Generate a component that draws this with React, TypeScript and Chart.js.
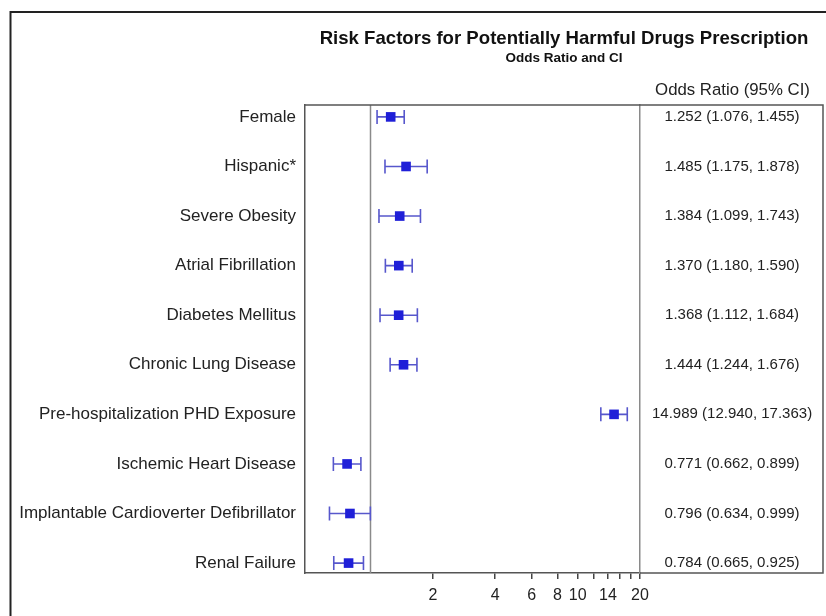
import React, { useEffect, useRef } from "react";
import { Chart, registerables } from "chart.js";

Chart.register(...registerables);

const titleText = "Risk Factors for Potentially Harmful Drugs Prescription";
const subtitleText = "Odds Ratio and CI";
const columnHeader = "Odds Ratio (95% CI)";

const categories = [
  "Female",
  "Hispanic*",
  "Severe Obesity",
  "Atrial Fibrillation",
  "Diabetes Mellitus",
  "Chronic Lung Disease",
  "Pre-hospitalization PHD Exposure",
  "Ischemic Heart Disease",
  "Implantable Cardioverter Defibrillator",
  "Renal Failure",
];
const oddsRatio = [1.252, 1.485, 1.384, 1.37, 1.368, 1.444, 14.989, 0.771, 0.796, 0.784];
const ciLow = [1.076, 1.175, 1.099, 1.18, 1.112, 1.244, 12.94, 0.662, 0.634, 0.665];
const ciHigh = [1.455, 1.878, 1.743, 1.59, 1.684, 1.676, 17.363, 0.899, 0.999, 0.925];

const xTickValues = [2, 4, 6, 8, 10, 12, 14, 16, 18, 20];
const xTickLabels = ["2", "4", "6", "8", "10", "", "14", "", "", "20"];

const resultLabels = oddsRatio.map(
  (v, i) => `${v.toFixed(3)} (${ciLow[i].toFixed(3)}, ${ciHigh[i].toFixed(3)})`
);

const FONT = "'Liberation Sans', Arial, sans-serif";
const W = 826;
const H = 616;
const BOX_RIGHT = 823;

const decor = {
  id: "decor",
  beforeDatasetsDraw(chart: any) {
    const { ctx, chartArea, scales } = chart;
    const x = scales.x;
    const y = scales.y;
    ctx.save();
    // reference line at OR = 1
    const x1 = Math.round(x.getPixelForValue(1)) + 0.5;
    ctx.strokeStyle = "#8a8a8a";
    ctx.lineWidth = 1.5;
    ctx.beginPath();
    ctx.moveTo(x1, chartArea.top);
    ctx.lineTo(x1, chartArea.bottom);
    ctx.stroke();
    // error bars
    ctx.strokeStyle = "#5757cc";
    ctx.lineWidth = 1.6;
    for (let i = 0; i < categories.length; i++) {
      const py = y.getPixelForValue(i);
      const xl = x.getPixelForValue(ciLow[i]);
      const xh = x.getPixelForValue(ciHigh[i]);
      ctx.beginPath();
      ctx.moveTo(xl, py);
      ctx.lineTo(xh, py);
      ctx.moveTo(xl, py - 7);
      ctx.lineTo(xl, py + 7);
      ctx.moveTo(xh, py - 7);
      ctx.lineTo(xh, py + 7);
      ctx.stroke();
    }
    ctx.restore();
  },
  afterDraw(chart: any) {
    const { ctx, chartArea } = chart;
    ctx.save();
    // box extension around the results column
    ctx.strokeStyle = "#555555";
    ctx.lineWidth = 1.5;
    ctx.beginPath();
    ctx.moveTo(chartArea.left, chartArea.top);
    ctx.lineTo(BOX_RIGHT, chartArea.top);
    ctx.lineTo(BOX_RIGHT, chartArea.bottom);
    ctx.lineTo(chartArea.right, chartArea.bottom);
    ctx.stroke();
    // outer frame
    ctx.strokeStyle = "#222222";
    ctx.lineWidth = 2;
    ctx.beginPath();
    ctx.moveTo(10.5, H);
    ctx.lineTo(10.5, 12);
    ctx.lineTo(W, 12);
    ctx.stroke();
    // titles
    const cx = (chartArea.left + BOX_RIGHT) / 2;
    ctx.fillStyle = "#111111";
    ctx.textAlign = "center";
    ctx.textBaseline = "middle";
    ctx.font = `bold 18.6px ${FONT}`;
    ctx.fillText(titleText, cx, 39);
    ctx.font = `bold 13.5px ${FONT}`;
    ctx.fillText(subtitleText, cx, 58);
    // column header
    ctx.fillStyle = "#222222";
    ctx.font = `16.8px ${FONT}`;
    ctx.fillText(columnHeader, (chartArea.right + BOX_RIGHT) / 2 + 1, 90);
    ctx.restore();
  },
};

export default function App() {
  const ref = useRef<HTMLCanvasElement | null>(null);
  useEffect(() => {
    if (!ref.current) return;
    const chart = new Chart(ref.current, {
      type: "scatter",
      data: {
        datasets: [
          {
            data: oddsRatio.map((v, i) => ({ x: v, y: i })),
            pointStyle: "rect",
            pointRadius: 6.8,
            pointBackgroundColor: "#1f1fd8",
            pointBorderColor: "#1f1fd8",
            pointBorderWidth: 0,
          },
        ],
      },
      plugins: [decor],
      options: {
        responsive: false,
        animation: false,
        devicePixelRatio: 1,
        layout: { padding: { top: 105, left: 0, right: 0, bottom: 0 } },
        plugins: {
          legend: { display: false },
          tooltip: { enabled: false },
          title: { display: false },
        },
        scales: {
          x: {
            type: "logarithmic",
            min: 0.483,
            max: 20,
            afterBuildTicks: (s: any) => {
              s.ticks = xTickValues.map((v) => ({ value: v }));
            },
            afterFit: (s: any) => {
              s.height = H - 573;
            },
            ticks: {
              autoSkip: false,
              maxRotation: 0,
              color: "#222222",
              font: { size: 16, family: FONT },
              padding: 7,
              callback: (_v: any, i: number) => xTickLabels[i],
            },
            grid: {
              drawOnChartArea: false,
              drawTicks: true,
              tickLength: 6,
              color: "#444444",
              lineWidth: 1.5,
            },
            border: { color: "#555555", width: 1.5 },
          },
          y: {
            type: "linear",
            position: "left",
            reverse: true,
            min: -0.24,
            max: 9.2,
            afterBuildTicks: (s: any) => {
              s.ticks = categories.map((_c, i) => ({ value: i }));
            },
            afterFit: (s: any) => {
              s.width = 305;
            },
            ticks: {
              autoSkip: false,
              color: "#222222",
              font: { size: 17, family: FONT },
              padding: 9,
              callback: (v: any) => categories[v],
            },
            grid: { display: false, drawTicks: false },
            border: { color: "#555555", width: 1.5 },
          },
          y2: {
            type: "linear",
            position: "right",
            reverse: true,
            min: -0.24,
            max: 9.2,
            afterBuildTicks: (s: any) => {
              s.ticks = resultLabels.map((_c, i) => ({ value: i }));
            },
            afterFit: (s: any) => {
              s.width = W - 640;
            },
            ticks: {
              autoSkip: false,
              crossAlign: "center",
              color: "#222222",
              font: { size: 15, family: FONT },
              padding: 12,
              callback: (v: any) => resultLabels[v],
            },
            grid: { display: false, drawTicks: false },
            border: { color: "#8a8a8a", width: 1.5 },
          },
        },
      },
    });
    return () => chart.destroy();
  }, []);
  return (
    <div style={{ position: "absolute", left: 0, top: 0, width: W, height: H, background: "#fff" }}>
      <canvas ref={ref} width={W} height={H} style={{ display: "block", width: W, height: H }} />
    </div>
  );
}
